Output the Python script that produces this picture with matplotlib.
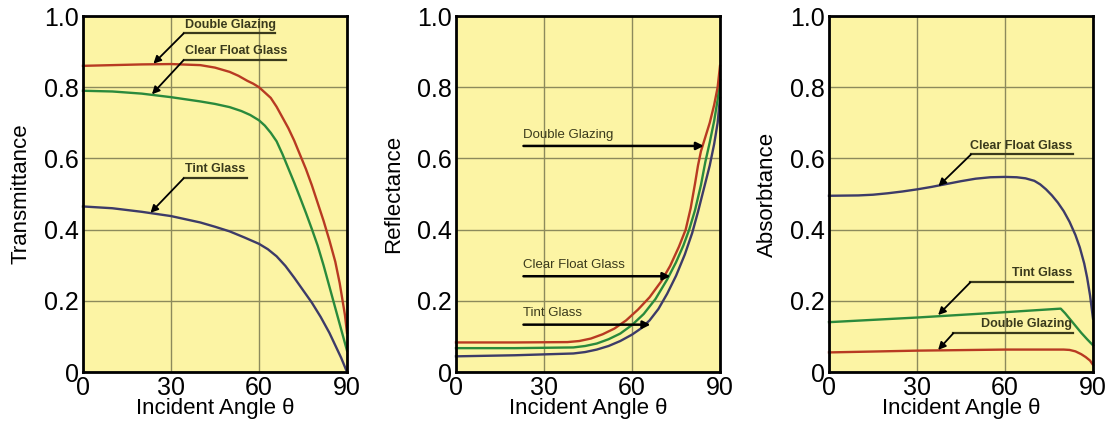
import matplotlib
matplotlib.use("Agg")
import matplotlib.pyplot as plt

plt.rcParams["font.family"] = ["Liberation Sans", "DejaVu Sans"]

BG = "#fcf4a4"
GRID = "#8c8a5c"
RED = "#b83a22"
GREEN = "#2a8a3c"
NAVY = "#3d3b68"
TXT = "#3a3a1c"

# --- Transmittance (panel 1) ---
t_dbl_ang = [0, 10, 20, 30, 40, 45, 50, 53, 56, 58, 60, 62, 64, 66, 68, 70, 72, 74, 76, 78,
             80, 82, 84, 86, 87.5, 88.5, 89.3, 90]
t_dbl_val = [0.860, 0.862, 0.864, 0.865, 0.862, 0.855, 0.843, 0.832, 0.818, 0.810, 0.800, 0.785,
             0.770, 0.745, 0.715, 0.685, 0.650, 0.610, 0.570, 0.525, 0.475, 0.425, 0.370, 0.310,
             0.250, 0.200, 0.160, 0.110]
t_clr_ang = [0, 10, 20, 30, 40, 45, 50, 54, 57, 60, 62, 64, 66, 68, 70, 72, 74, 76, 78, 80,
             82, 84, 85.5, 87, 88.5, 90]
t_clr_val = [0.790, 0.788, 0.782, 0.772, 0.760, 0.753, 0.744, 0.733, 0.722, 0.707, 0.692, 0.672,
             0.648, 0.612, 0.572, 0.532, 0.490, 0.447, 0.402, 0.355, 0.300, 0.240, 0.195, 0.150,
             0.105, 0.060]
t_tnt_ang = [0, 10, 20, 30, 40, 45, 50, 55, 60, 63, 66, 69, 72, 75, 78, 81, 84, 86, 88, 90]
t_tnt_val = [0.465, 0.460, 0.450, 0.438, 0.420, 0.408, 0.395, 0.378, 0.360, 0.345, 0.325, 0.298,
             0.265, 0.230, 0.195, 0.155, 0.110, 0.075, 0.040, 0.000]

# --- Reflectance (panel 2) ---
r_dbl_ang = [0, 20, 38, 42, 46, 50, 54, 58, 62, 66, 70, 73, 76, 78.3, 80, 81.5, 82.5, 83.5,
             85, 86.5, 88, 89.2, 90]
r_dbl_val = [0.083, 0.083, 0.084, 0.087, 0.094, 0.106, 0.122, 0.145, 0.175, 0.210, 0.255, 0.298,
             0.352, 0.400, 0.460, 0.530, 0.580, 0.620, 0.660, 0.700, 0.750, 0.800, 0.860]
r_clr_ang = [0, 20, 40, 44, 48, 52, 56, 60, 64, 68, 72, 75, 77.5, 79.5, 81.5, 83.5, 85, 86.5,
             88, 89.2, 90]
r_clr_val = [0.067, 0.067, 0.069, 0.073, 0.080, 0.092, 0.108, 0.132, 0.163, 0.205, 0.260, 0.308,
             0.355, 0.400, 0.455, 0.525, 0.590, 0.645, 0.705, 0.765, 0.820]
r_tnt_ang = [0, 20, 40, 44, 48, 52, 56, 60, 63, 66, 69, 72, 75, 78, 80.5, 82.5, 84.5, 86.5,
             88, 89.2, 90]
r_tnt_val = [0.044, 0.047, 0.052, 0.056, 0.063, 0.073, 0.087, 0.105, 0.122, 0.145, 0.177, 0.220,
             0.270, 0.330, 0.390, 0.450, 0.515, 0.580, 0.640, 0.700, 0.770]

# --- Absorbance (panel 3) ---
a_clr_ang = [0, 10, 15, 20, 25, 30, 35, 40, 45, 50, 55, 60, 64, 67, 70, 72, 74, 76, 78, 80,
             82, 84, 85.5, 87, 88, 89, 90]
a_clr_val = [0.495, 0.496, 0.498, 0.502, 0.507, 0.513, 0.520, 0.528, 0.536, 0.543, 0.547, 0.548,
             0.547, 0.544, 0.537, 0.527, 0.513, 0.496, 0.476, 0.452, 0.422, 0.385, 0.350, 0.305,
             0.265, 0.215, 0.150]
a_tnt_ang = [0, 30, 60, 79, 80.5, 82, 84, 86, 88, 90]
a_tnt_val = [0.140, 0.153, 0.168, 0.178, 0.165, 0.150, 0.130, 0.110, 0.092, 0.075]
a_dbl_ang = [0, 30, 60, 80, 82, 84, 86, 87.5, 89, 90]
a_dbl_val = [0.055, 0.060, 0.063, 0.063, 0.062, 0.058, 0.050, 0.042, 0.032, 0.020]

x_ticks = [0, 30, 60, 90]
y_ticks = [0, 0.2, 0.4, 0.6, 0.8, 1.0]
y_tick_labels = ["0", "0.2", "0.4", "0.6", "0.8", "1.0"]
y_names = ["Transmittance", "Reflectance", "Absorbtance"]
x_name = "Incident Angle \u03b8"

fig = plt.figure(figsize=(11.09, 4.23), dpi=100)
lefts = [83 / 1109, 456 / 1109, 829 / 1109]
axes = [fig.add_axes([l, 51 / 423, 264 / 1109, 356 / 423]) for l in lefts]

panels = [
    [(t_dbl_ang, t_dbl_val, RED), (t_clr_ang, t_clr_val, GREEN), (t_tnt_ang, t_tnt_val, NAVY)],
    [(r_tnt_ang, r_tnt_val, NAVY), (r_clr_ang, r_clr_val, GREEN), (r_dbl_ang, r_dbl_val, RED)],
    [(a_clr_ang, a_clr_val, NAVY), (a_tnt_ang, a_tnt_val, GREEN), (a_dbl_ang, a_dbl_val, RED)],
]

for ax, curves, yname in zip(axes, panels, y_names):
    ax.set_facecolor(BG)
    for xs, ys, c in curves:
        ax.plot(xs, ys, color=c, lw=1.7, zorder=3, clip_on=False, solid_joinstyle="round")
    ax.set_xlim(0, 90)
    ax.set_ylim(0, 1.0)
    ax.set_xticks(x_ticks)
    ax.set_yticks(y_ticks)
    ax.set_yticklabels(y_tick_labels)
    ax.grid(True, color=GRID, lw=1.0, zorder=1)
    ax.set_axisbelow(True)
    ax.tick_params(length=0, labelsize=18, pad=3)
    for s in ax.spines.values():
        s.set_linewidth(2.0)
        s.set_color("black")
        s.set_zorder(5)
    ax.set_ylabel(yname, fontsize=16, va="center")
    ax.yaxis.set_label_coords(-0.235, 0.5)
    ax.set_xlabel(x_name, fontsize=16, va="center")
    ax.xaxis.set_label_coords(0.5, -0.103)

arrow = dict(arrowstyle="-|>", color="black", lw=1.3, mutation_scale=11,
             shrinkA=0, shrinkB=0)

# underlined labels with leader arrows: (text, underline x0, x1, y, tip x, tip y, text align)
p1_labels = [
    ("Double Glazing", 34.3, 65.5, 0.951, 24.0, 0.866, "left"),
    ("Clear Float Glass", 34.3, 69.3, 0.876, 23.5, 0.780, "left"),
    ("Tint Glass", 34.3, 55.8, 0.544, 23.0, 0.447, "left"),
]
p3_labels = [
    ("Clear Float Glass", 48.4, 83.2, 0.611, 37.3, 0.522, "right"),
    ("Tint Glass", 48.2, 83.2, 0.252, 37.2, 0.160, "right"),
    ("Double Glazing", 42.4, 83.2, 0.109, 37.2, 0.062, "right"),
]
for ax, labels in [(axes[0], p1_labels), (axes[2], p3_labels)]:
    for txt, x0, x1, yu, tx, ty, ha in labels:
        ax.plot([x0, x1], [yu, yu], color=TXT, lw=1.6, zorder=4)
        ax.annotate("", xy=(tx, ty), xytext=(x0, yu), arrowprops=arrow, zorder=4)
        xt = x0 + 0.6 if ha == "left" else x1 - 0.4
        ax.text(xt, yu + 0.008, txt, ha=ha, va="bottom", fontsize=9, color=TXT,
                fontweight="bold", zorder=4)

# straight arrows in reflectance panel: (text, x0, arrow y, tip x, text y)
p2_labels = [
    ("Double Glazing", 23.0, 0.635, 84.5, 0.650),
    ("Clear Float Glass", 23.0, 0.269, 73.1, 0.284),
    ("Tint Glass", 23.0, 0.133, 66.3, 0.148),
]
for txt, x0, ya, tx, yt in p2_labels:
    axes[1].annotate("", xy=(tx, ya), xytext=(x0, ya), arrowprops=dict(arrow, lw=1.8), zorder=4)
    axes[1].text(x0, yt, txt, ha="left", va="bottom", fontsize=9.5, color=TXT, zorder=4)

fig.savefig("out.png", dpi=100)
